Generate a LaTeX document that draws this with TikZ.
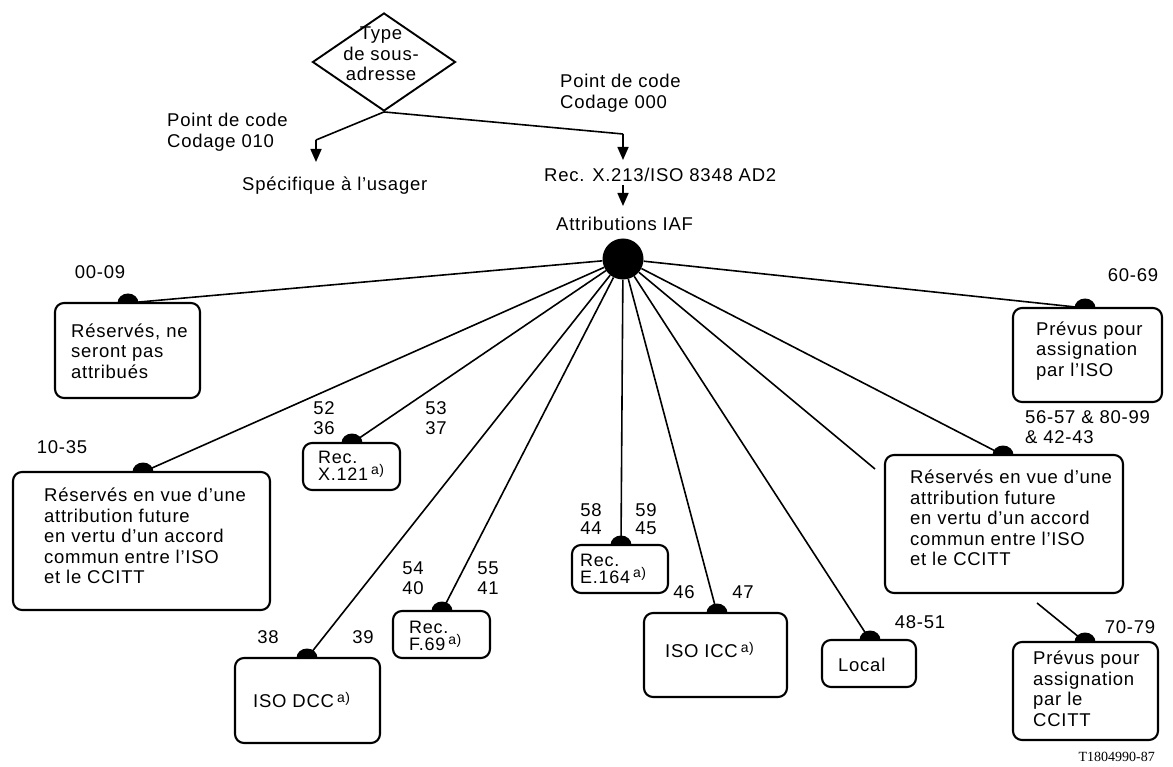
\documentclass[tikz,border=0pt]{standalone}
\usepackage{fontspec}
\setmainfont{Liberation Sans}[LetterSpace=4]
\newfontfamily\serifT{Liberation Serif}
\usetikzlibrary{shapes.geometric,arrows.meta}
\newcommand\supa{\raisebox{0.6ex}{\fontsize{14}{14}\selectfont a)}}
\newcommand\semidot[1]{\fill (#1) ++(-10.5pt,0) arc[start angle=180,end angle=0,x radius=10.5pt,y radius=9.5pt] -- cycle;}
\tikzset{
 box/.style={draw, line width=2.1pt, rounded corners=9pt, inner sep=0pt},
 txt/.style={inner sep=0pt, align=left, font=\fontsize{18.5}{20.5}\selectfont},
 stxt/.style={inner sep=0pt, align=left, font=\fontsize{18}{15.5}\selectfont},
 lbl/.style={inner sep=0pt, align=center, font=\fontsize{18.5}{20.5}\selectfont},
 ln/.style={line width=1.6pt},
 arr/.style={line width=1.6pt, -{Triangle[length=13pt,width=11pt]}},
}
\begin{document}
\begin{tikzpicture}[x=1pt,y=-1pt]
\useasboundingbox (0,0) rectangle (1173,767);
% top part
\node[draw, diamond, line width=1.9pt, minimum width=143pt, minimum height=98pt, inner sep=0pt] (d) at (384,62) {};
\node[lbl] (typ) at (381,54) {Type\\de sous-\\adresse};
\node[txt, anchor=west] (pc1) at (167,132) {Point de code\\Codage 010};
\node[txt, anchor=west] (pc0) at (560,93) {Point de code\\Codage 000};
\node[txt, anchor=west] (spec) at (242,186) {Spécifique à l’usager};
\node[txt, anchor=west] (rec) at (544,175) {Rec. X.213/ISO 8348 AD2};
\node[txt, anchor=west] (iaf) at (556,224) {Attributions IAF};
\coordinate (lbend) at (316,140);
\coordinate (ltip) at (316,162);
\coordinate (rbend) at (623,134);
\coordinate (rtip) at (623,160);
\coordinate (m1) at (623,185);
\coordinate (m2) at (623,206);
\draw[ln] (d.south) -- (lbend);
\draw[arr] (lbend) -- (ltip);
\draw[ln] (d.south) -- (rbend);
\draw[arr] (rbend) -- (rtip);
\draw[arr] (m1) -- (m2);
\node[circle, fill, minimum size=41pt, inner sep=0pt] (hub) at (623,259) {};
% dots
\coordinate (dA) at (128,303);
\coordinate (dB) at (143,472);
\coordinate (dX) at (352,443);
\coordinate (dF) at (442,611);
\coordinate (dD) at (307,658);
\coordinate (dE) at (621,545);
\coordinate (dI) at (717,613);
\coordinate (dL) at (870,640);
\coordinate (free) at (875,469);
\coordinate (dR) at (1003,455);
\coordinate (d6) at (1085,308);
\coordinate (d7) at (1085,642);
\coordinate (rfrom) at (1037,603);
\foreach \p in {dA,dB,dX,dF,dD,dE,dI,dL,free,dR,d6} {\draw[ln] (hub) -- (\p);}
\draw[ln] (rfrom) -- (d7);
% boxes
\node[box, minimum width=145pt, minimum height=95pt] (bA) at (127.5,350.5) {};
\node[box, minimum width=257pt, minimum height=138pt] (bB) at (141.5,541) {};
\node[box, minimum width=97pt, minimum height=47pt] (bX) at (351.5,466.5) {};
\node[box, minimum width=97pt, minimum height=47pt] (bF) at (441.5,634.5) {};
\node[box, minimum width=145pt, minimum height=85pt] (bD) at (307.5,700.5) {};
\node[box, minimum width=96pt, minimum height=48pt] (bE) at (620,569) {};
\node[box, minimum width=143pt, minimum height=84pt] (bI) at (715.5,655) {};
\node[box, minimum width=94pt, minimum height=47pt] (bL) at (869,663.5) {};
\node[box, minimum width=238pt, minimum height=138pt] (bR) at (1004,524) {};
\node[box, minimum width=149pt, minimum height=94pt] (b6) at (1087.5,355) {};
\node[box, minimum width=145pt, minimum height=98pt] (b7) at (1085.5,691) {};
\foreach \p in {dA,dB,dX,dF,dD,dE,dI,dL,dR,d6,d7} {\semidot{\p}}
% box texts
\node[txt, anchor=west] (tA) at (71,351) {Réservés, ne\\seront pas\\attribués};
\node[txt, anchor=west] (tB) at (44,536) {Réservés en vue d’une\\attribution future\\en vertu d’un accord\\commun entre l’ISO\\et le CCITT};
\node[txt, anchor=west] (tR) at (910,518) {Réservés en vue d’une\\attribution future\\en vertu d’un accord\\commun entre l’ISO\\et le CCITT};
\node[txt, anchor=west] (t6) at (1036,351) {Prévus pour\\assignation\\par l’ISO};
\node[txt, anchor=west] (t7) at (1033,689) {Prévus pour\\assignation\\par le\\CCITT};
\node[stxt, anchor=west] (tX) at (318,466) {Rec.\\X.121\,\supa};
\node[stxt, anchor=west] (tF) at (409,636) {Rec.\\F.69\,\supa};
\node[stxt, anchor=west] (tE) at (580,569) {Rec.\\E.164\,\supa};
\node[txt, anchor=west] (tD) at (253,700) {ISO DCC\,\supa};
\node[txt, anchor=west] (tI) at (665,650) {ISO ICC\,\supa};
\node[txt, anchor=west] (tL) at (838,665) {Local};
% labels
\node[lbl] (l0009) at (100,272) {00-09};
\node[lbl] (l1035) at (62,447) {10-35};
\node[lbl] (l5236) at (324,418) {52\\36};
\node[lbl] (l5337) at (436,418) {53\\37};
\node[lbl] (l5440) at (413,578) {54\\40};
\node[lbl] (l5541) at (488,578) {55\\41};
\node[lbl, font=\fontsize{18.5}{18}\selectfont] (l5844) at (591,519) {58\\44};
\node[lbl, font=\fontsize{18.5}{18}\selectfont] (l5945) at (646,519) {59\\45};
\node[lbl] (l38) at (268,637) {38};
\node[lbl] (l39) at (363,637) {39};
\node[lbl] (l46) at (684,592) {46};
\node[lbl] (l47) at (743,592) {47};
\node[lbl] (l4851) at (920,622) {48-51};
\node[lbl] (l6069) at (1133,275) {60-69};
\node[lbl] (l7079) at (1130,627) {70-79};
\node[txt, anchor=west] (l5657) at (1025,427) {56-57 \& 80-99\\\& 42-43};
\node[inner sep=0pt, anchor=east, font=\serifT\fontsize{14}{14}\selectfont] (ref) at (1155,757) {T1804990-87};
\end{tikzpicture}
\end{document}
